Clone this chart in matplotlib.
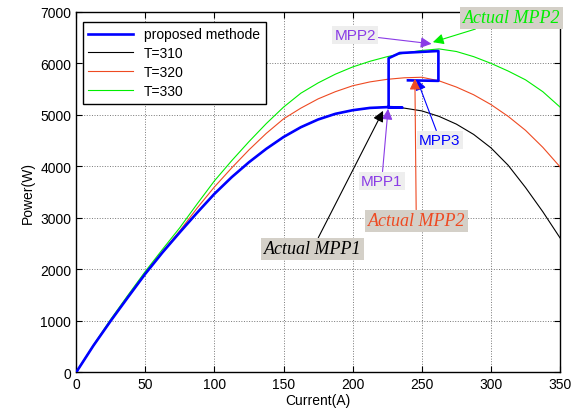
import matplotlib
matplotlib.use('Agg')
import matplotlib.pyplot as plt
import numpy as np

plt.rcParams['font.family'] = ['Liberation Sans', 'DejaVu Sans']

# current axis (A)
current = np.arange(0, 350.1, 12.5)

# P-I curves (W)
p310 = [0, 520, 1000, 1460, 1913, 2330, 2720, 3100, 3466, 3790, 4080, 4340, 4570,
        4760, 4910, 5020, 5090, 5135, 5150, 5130, 5077, 4970, 4820, 4620, 4360,
        4020, 3590, 3120, 2610]
p320 = [0, 520, 1010, 1480, 1935, 2350, 2750, 3190, 3600, 3970, 4320, 4640, 4922,
        5130, 5310, 5450, 5565, 5640, 5690, 5720, 5730, 5660, 5540, 5390, 5200,
        4970, 4700, 4370, 3990]
p330 = [0, 530, 1030, 1500, 1960, 2390, 2810, 3270, 3718, 4110, 4480, 4830, 5150,
        5420, 5620, 5790, 5930, 6040, 6130, 6200, 6250, 6280, 6230, 6130, 6000,
        5850, 5680, 5450, 5150]

# tracking path of the proposed method: follows T=310 up to MPP1 then steps
track_i_tail = [226, 236, 226, 226, 234, 262, 262, 240]
track_p_tail = [5150, 5140, 5140, 6100, 6200, 6240, 5660, 5670]
n_mpp1 = 19  # points of the T=310 curve up to 225 A
track_i = list(current[:n_mpp1]) + track_i_tail
track_p = list(p310[:n_mpp1]) + track_p_tail

fig = plt.figure(figsize=(5.81, 4.14), dpi=100)
ax = fig.add_axes([0.131, 0.098, 0.833, 0.871])

c_red = '#ee4a22'
c_green = '#00ee00'
c_purple = '#8a3be6'

ax.plot(track_i, track_p, color='#0000ff', lw=1.9, label='proposed methode', zorder=4)
ax.plot(current, p310, color='k', lw=0.8, label='T=310', zorder=3)
ax.plot(current, p320, color=c_red, lw=0.8, label='T=320', zorder=3)
ax.plot(current, p330, color=c_green, lw=0.8, label='T=330', zorder=3)

ax.set_xlim(0, 350)
ax.set_ylim(0, 7000)
ax.set_xticks(np.arange(0, 351, 50))
ax.set_yticks(np.arange(0, 7001, 1000))
ax.tick_params(direction='in', top=True, right=True, labelsize=10, length=4)
ax.grid(True, ls=':', color='#777777', lw=0.7)
for s in ax.spines.values():
    s.set_linewidth(1.0)

ax.set_xlabel('Current(A)', fontsize=10, labelpad=1)
ax.set_ylabel('Power(W)', fontsize=10, labelpad=4)

leg = ax.legend(loc='upper left', bbox_to_anchor=(0.014, 0.972), borderaxespad=0,
                fancybox=False, edgecolor='k', fontsize=10, handlelength=3.2,
                labelspacing=0.35, borderpad=0.4, framealpha=1)
leg.get_frame().set_linewidth(1.0)

serif = ['Liberation Serif', 'DejaVu Serif']
gray_box = dict(boxstyle='square,pad=0.15', fc='#d4d0c8', ec='none')
light_box = dict(boxstyle='square,pad=0.15', fc='#eeeeee', ec='none')


def arrow(col):
    return dict(arrowstyle='-|>', color=col, lw=0.8, mutation_scale=16,
                shrinkA=0, shrinkB=0)


ax.annotate('Actual MPP2', xy=(258, 6411), xytext=(315, 6883), color=c_green,
            fontsize=13, style='italic', family=serif, ha='center', va='center',
            bbox=gray_box, arrowprops=arrow(c_green), zorder=6)
ax.annotate('MPP2', xy=(257, 6379), xytext=(202, 6553), color=c_purple,
            fontsize=11, ha='center', va='center', bbox=light_box,
            arrowprops=arrow(c_purple), zorder=6)
ax.annotate('MPP3', xy=(246.5, 5690), xytext=(263, 4515), color='#0000ff',
            fontsize=11, ha='center', va='center', bbox=light_box,
            arrowprops=arrow('#0000ff'), zorder=6)
ax.annotate('MPP1', xy=(225.6, 5117), xytext=(221, 3718), color=c_purple,
            fontsize=11, ha='center', va='center', bbox=light_box,
            arrowprops=arrow(c_purple), zorder=6)
ax.annotate('Actual MPP2', xy=(245, 5700), xytext=(246, 2942), color=c_red,
            fontsize=13, style='italic', family=serif, ha='center', va='center',
            bbox=gray_box, arrowprops=arrow(c_red), zorder=6)
ax.annotate('Actual MPP1', xy=(222, 5078), xytext=(171, 2398), color='k',
            fontsize=13, style='italic', family=serif, ha='center', va='center',
            bbox=gray_box, arrowprops=arrow('k'), zorder=6)

fig.savefig('out.png', dpi=100)
